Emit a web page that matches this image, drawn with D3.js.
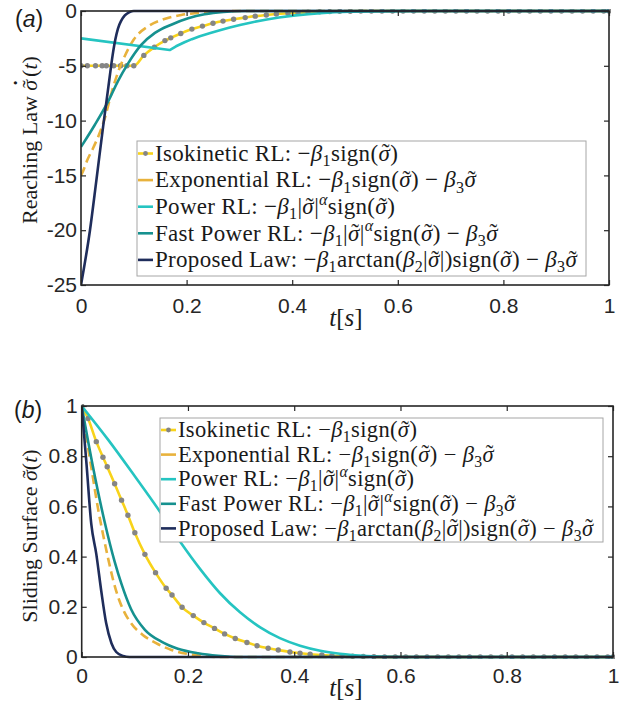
<!DOCTYPE html>
<html>
<head>
<meta charset="utf-8">
<script src="https://cdn.jsdelivr.net/npm/d3@7"></script>
<style>
  body { margin: 0; background: #fff; }
</style>
</head>
<body>
<script>
// ── data ─────────────────────────────────────────────────
// isokinetic run: markers sit on these samples (same grid in both panels)
const tIso = [0, 0.012, 0.0275, 0.04, 0.048, 0.062, 0.075, 0.087, 0.1, 0.119, 0.139, 0.159, 0.17, 0.189,
     0.21, 0.23, 0.25, 0.269, 0.289, 0.311, 0.33, 0.351, 0.37, 0.392, 0.411, 0.43, 0.452, 0.471, 0.49, 0.51,
     0.53, 0.55, 0.57, 0.59, 0.61, 0.63, 0.65, 0.67, 0.69, 0.71, 0.73, 0.75, 0.77, 0.79, 0.81, 0.83, 0.85,
     0.87, 0.89, 0.91, 0.93, 0.95, 0.97, 0.99, 1];
const isoReach = [-5, -5, -5, -5, -5, -5, -5, -5, -5, -4.05, -3.3, -2.7, -2.45, -2.05,
     -1.65, -1.38, -1.12, -0.92, -0.75, -0.6, -0.47, -0.36, -0.28, -0.21, -0.15, -0.1, -0.07, -0.05, -0.03, -0.02,
     -0.01, 0, 0, 0, 0, 0, 0, 0, 0, 0, 0, 0, 0, 0, 0, 0, 0,
     0, 0, 0, 0, 0, 0, 0, 0];
const isoSigma = [1, 0.95, 0.858, 0.796, 0.758, 0.69, 0.625, 0.565, 0.495, 0.409, 0.336, 0.274, 0.247, 0.198,
     0.165, 0.137, 0.114, 0.092, 0.074, 0.058, 0.045, 0.035, 0.028, 0.02, 0.015, 0.011, 0.008, 0.005, 0.004, 0.003,
     0.002, 0.001, 0, 0, 0, 0, 0, 0, 0, 0, 0, 0, 0, 0, 0, 0, 0,
     0, 0, 0, 0, 0, 0, 0, 0];

// panel (a): reaching law
const expReach = [[0, -15], [0.004, -14.6], [0.012, -13.6], [0.023, -12.5], [0.034, -11.3], [0.045, -9.8],
     [0.057, -7.6], [0.07, -5.6], [0.083, -4.1], [0.1, -2.6], [0.127, -1.4], [0.158, -0.73], [0.19, -0.36],
     [0.22, -0.18], [0.26, -0.06], [0.3, 0], [1, 0]];
const powReach = [[0, -2.5], [0.168, -3.56], [0.18, -3.22], [0.196, -2.85], [0.21, -2.57], [0.225, -2.3],
     [0.245, -2.0], [0.263, -1.75], [0.28, -1.53], [0.301, -1.28], [0.325, -1.02], [0.352, -0.77], [0.375, -0.59],
     [0.402, -0.42], [0.43, -0.29], [0.453, -0.2], [0.48, -0.12], [0.51, -0.07], [0.55, -0.03], [0.6, -0.01],
     [0.65, 0], [1, 0]];
const fastReach = [[0, -12.4], [0.004, -12.1], [0.026, -10.4], [0.051, -8.3], [0.07, -6.4], [0.089, -4.8],
     [0.114, -3.1], [0.14, -2.0], [0.171, -1.25], [0.203, -0.67], [0.234, -0.3], [0.27, -0.08], [0.31, 0], [1, 0]];
const propReach = [[0, -25], [0.017, -20], [0.029, -15.5], [0.042, -10.5], [0.053, -6.5], [0.06, -4.0],
     [0.065, -2.6], [0.07, -1.6], [0.076, -0.9], [0.083, -0.4], [0.092, -0.1], [0.1, 0], [1, 0]];

// panel (b): sliding surface
const expSigma = [[0, 1], [0.01, 0.86], [0.02, 0.73], [0.03, 0.6], [0.04, 0.49], [0.05, 0.39], [0.06, 0.3],
     [0.07, 0.23], [0.08, 0.18], [0.093, 0.134], [0.115, 0.088], [0.14, 0.055], [0.169, 0.028], [0.2, 0.012],
     [0.23, 0.004], [0.26, 0], [1, 0]];
const powSigma = [[0, 1], [0.05, 0.865], [0.1, 0.72], [0.147, 0.58], [0.185, 0.46], [0.223, 0.35],
     [0.26, 0.255], [0.298, 0.178], [0.336, 0.118], [0.373, 0.075], [0.411, 0.045], [0.449, 0.025], [0.486, 0.013],
     [0.537, 0.004], [0.6, 0], [1, 0]];
const fastSigma = [[0, 1], [0.021, 0.76], [0.043, 0.54], [0.062, 0.38], [0.075, 0.29], [0.093, 0.19],
     [0.119, 0.108], [0.15, 0.061], [0.181, 0.033], [0.219, 0.015], [0.257, 0.005], [0.3, 0], [1, 0]];
const propSigma = [[0, 1], [0.009, 0.77], [0.018, 0.53], [0.0275, 0.41], [0.037, 0.26], [0.046, 0.135],
     [0.056, 0.055], [0.065, 0.02], [0.078, 0.004], [0.09, 0], [1, 0]];

// ticks
const xTicks = [0, 0.2, 0.4, 0.6, 0.8, 1];
const xTickLabels = ['0', '0.2', '0.4', '0.6', '0.8', '1'];
const reachTicks = [-25, -20, -15, -10, -5, 0];
const reachTickLabels = ['-25', '-20', '-15', '-10', '-5', '0'];
const sigmaTicks = [0, 0.2, 0.4, 0.6, 0.8, 1];
const sigmaTickLabels = ['0', '0.2', '0.4', '0.6', '0.8', '1'];

// legend entries (LaTeX-ish pieces: '' roman, i italic, sub, isup, st = sigma-tilde)
const legendLabels = [
     [['Isokinetic RL: −', ''], ['β', 'i'], ['1', 'sub'], ['sign(', ''], ['', 'st'], [')', '']],
     [['Exponential RL: −', ''], ['β', 'i'], ['1', 'sub'], ['sign(', ''], ['', 'st'], [') − ', ''], ['β', 'i'], ['3', 'sub'], ['', 'st']],
     [['Power RL: −', ''], ['β', 'i'], ['1', 'sub'], ['|', ''], ['', 'st'], ['|', ''], ['α', 'isup'], ['sign(', ''], ['', 'st'], [')', '']],
     [['Fast Power RL: −', ''], ['β', 'i'], ['1', 'sub'], ['|', ''], ['', 'st'], ['|', ''], ['α', 'isup'], ['sign(', ''], ['', 'st'], [') − ', ''], ['β', 'i'], ['3', 'sub'], ['', 'st']],
     [['Proposed Law: −', ''], ['β', 'i'], ['1', 'sub'], ['arctan(', ''], ['β', 'i'], ['2', 'sub'], ['|', ''], ['', 'st'], ['|)sign(', ''], ['', 'st'], [') − ', ''], ['β', 'i'], ['3', 'sub'], ['', 'st']]
];

const COL = { iso: '#F8D31A', dot: '#858585', exp: '#E8B23C', pow: '#25C4C1', fast: '#16918F', prop: '#1F2D5B' };
const SERIF = '"Liberation Serif"';
const SANS = '"Liberation Sans"';

const svg = d3.select('body').append('svg').attr('width', 627).attr('height', 711)
     .style('background', '#fff');

// writes LaTeX-like pieces as tspans; sigma-tilde (and its dot) are stacked by hand
function mathText(sel, parts, size, family) {
     let shift = 0, pendDx = 0;
     const add = (s, k, extraDy) => {
          const ts = sel.append('tspan').text(s).attr('font-family', family);
          let target = 0;
          if (k === 'sub') target = size * 0.22;
          if (k === 'isup') target = -size * 0.4;
          target += extraDy || 0;
          if (target !== shift) { ts.attr('dy', target - shift); shift = target; }
          if (pendDx) { ts.attr('dx', pendDx); pendDx = 0; }
          if (k === 'sub' || k === 'isup') ts.attr('font-size', size * 0.7);
          if (k === 'i' || k === 'isup') ts.attr('font-style', 'italic');
          return ts;
     };
     parts.forEach(([s, k]) => {
          if (k === 'st' || k === 'std') {
               add('σ', 'i');
               add('\u02DC', '', -size * 0.02).attr('dx', -size * 0.36);
               if (k === 'std') {
                    add('\u02D9', '', -size * 0.36).attr('dx', -size * 0.27).attr('font-weight', 'bold');
                    pendDx = size * 0.1;
               } else pendDx = size * 0.02;
          } else add(s, k);
     });
}

function drawPanel(cfg) {
     const x = d3.scaleLinear().domain([0, 1]).range([cfg.x0, cfg.x1]);
     const y = d3.scaleLinear().domain(cfg.yDomain).range([cfg.y1, cfg.y0]);
     const g = svg.append('g');

     const clip = 'clip-' + cfg.id;
     g.append('clipPath').attr('id', clip).append('rect')
          .attr('x', cfg.x0).attr('y', cfg.y0 - 2).attr('width', cfg.x1 - cfg.x0 + 2).attr('height', cfg.y1 - cfg.y0 + 4);

     const plot = g.append('g').attr('clip-path', `url(#${clip})`);
     const isoPts = tIso.map((t, i) => [t, cfg.iso[i]]);

     const series = [
          { pts: isoPts, color: COL.iso, dash: null },
          { pts: cfg.exp, color: COL.exp, dash: '9,5' },
          { pts: cfg.pow, color: COL.pow, dash: null, curve: cfg.powCurve },
          { pts: cfg.fast, color: COL.fast, dash: null },
          { pts: cfg.prop, color: COL.prop, dash: null }
     ];

     series.forEach((s, i) => {
          const line = d3.line().x(d => x(d[0])).y(d => y(d[1])).curve(s.curve || d3.curveMonotoneX);
          plot.append('path').datum(s.pts)
               .attr('d', line)
               .attr('fill', 'none')
               .attr('stroke', s.color)
               .attr('stroke-width', 2.6)
               .attr('stroke-dasharray', s.dash)
               .attr('stroke-linejoin', 'round');
          if (i === 0) {
               plot.selectAll('.iso-dot').data(isoPts).join('circle')
                    .attr('class', 'iso-dot')
                    .attr('cx', d => x(d[0])).attr('cy', d => y(d[1]))
                    .attr('r', 2.7).attr('fill', COL.dot);
          }
     });

     // axes: inward ticks on all four sides, MATLAB box
     const tk = 5;
     const xAx = g.append('g').attr('transform', `translate(0,${cfg.y1})`)
          .call(d3.axisBottom(x).tickValues(xTicks).tickFormat((d, i) => xTickLabels[i])
               .tickSizeInner(-tk).tickSizeOuter(0).tickPadding(cfg.xPad));
     g.append('g').attr('transform', `translate(0,${cfg.y0})`)
          .call(d3.axisTop(x).tickValues(xTicks).tickFormat('').tickSizeInner(-tk).tickSizeOuter(0));
     const yAx = g.append('g').attr('transform', `translate(${cfg.x0},0)`)
          .call(d3.axisLeft(y).tickValues(cfg.yTicks).tickFormat((d, i) => cfg.yTickLabels[i])
               .tickSizeInner(-tk).tickSizeOuter(0).tickPadding(4));
     g.append('g').attr('transform', `translate(${cfg.x1},0)`)
          .call(d3.axisRight(y).tickValues(cfg.yTicks).tickFormat('').tickSizeInner(-tk).tickSizeOuter(0));
     g.selectAll('.domain').remove();
     g.selectAll('.tick line').attr('stroke', '#262626').attr('stroke-width', 1.2);
     [xAx, yAx].forEach(a => {
          a.attr('font-family', SANS).attr('font-size', 21);
          a.selectAll('text').attr('font-family', SANS).attr('fill', '#262626');
     });

     g.append('rect')
          .attr('x', cfg.x0).attr('y', cfg.y0)
          .attr('width', cfg.x1 - cfg.x0).attr('height', cfg.y1 - cfg.y0)
          .attr('fill', 'none').attr('stroke', '#262626').attr('stroke-width', 1.6);

     // legend
     const L = cfg.legend;
     const lg = g.append('g');
     lg.append('rect')
          .attr('x', L.x).attr('y', L.y).attr('width', L.w).attr('height', L.h)
          .attr('fill', '#fff').attr('stroke', '#a6a6a6').attr('stroke-width', 1);
     series.forEach((s, i) => {
          const cy = L.y + L.first + i * L.step;
          lg.append('line')
               .attr('x1', L.x + 1).attr('x2', L.x + 16).attr('y1', cy).attr('y2', cy)
               .attr('stroke', s.color).attr('stroke-width', 2.6);
          if (i === 0) lg.append('circle').attr('cx', L.x + 8.5).attr('cy', cy).attr('r', 2.4).attr('fill', COL.dot);
          const t = lg.append('text')
               .attr('x', L.x + 18).attr('y', cy + L.size * 0.32)
               .attr('font-family', SERIF).attr('font-size', L.size)
               .attr('letter-spacing', L.ls).attr('fill', '#1a1a1a');
          mathText(t, legendLabels[i], L.size, SERIF);
     });

     // axis titles
     const xl = g.append('text')
          .attr('x', cfg.xLabel[0]).attr('y', cfg.xLabel[1]).attr('text-anchor', 'middle')
          .attr('font-family', SERIF).attr('font-size', 25).attr('fill', '#1a1a1a');
     mathText(xl, [['t', 'i'], ['[', ''], ['s', 'i'], [']', '']], 25, SERIF);

     const yl = g.append('text')
          .attr('transform', `translate(${cfg.yLabel[0]},${cfg.yLabel[1]}) rotate(-90)`)
          .attr('text-anchor', 'middle')
          .attr('font-family', SERIF).attr('font-size', 22).attr('fill', '#1a1a1a');
     mathText(yl, cfg.yTitle, 22, SERIF);

     const pl = g.append('text').attr('x', cfg.tag[0]).attr('y', cfg.tag[1])
          .attr('font-family', SANS).attr('font-size', 23).attr('fill', '#1a1a1a');
     mathText(pl, [['(', ''], [cfg.id, 'i'], [')', '']], 23, SANS);
}

drawPanel({
     id: 'a', x0: 81, x1: 609, y0: 11, y1: 285,
     yDomain: [-25, 0], yTicks: reachTicks, yTickLabels: reachTickLabels, xPad: 13,
     iso: isoReach, exp: expReach, pow: powReach, fast: fastReach, prop: propReach,
     powCurve: d3.curveLinear,
     legend: { x: 137, y: 141, w: 449, h: 135, first: 12.5, step: 26.6, size: 23, ls: 0.3 },
     xLabel: [346, 326], yLabel: [37, 140],
     yTitle: [['Reaching Law ', ''], ['', 'std'], ['(', ''], ['t', 'i'], [')', '']],
     tag: [15, 27]
});

drawPanel({
     id: 'b', x0: 81.7, x1: 613, y0: 406, y1: 657,
     yDomain: [0, 1], yTicks: sigmaTicks, yTickLabels: sigmaTickLabels, xPad: 11,
     iso: isoSigma, exp: expSigma, pow: powSigma, fast: fastSigma, prop: propSigma,
     powCurve: d3.curveMonotoneX,
     legend: { x: 160, y: 418, w: 443, h: 124, first: 12, step: 24.6, size: 22.5, ls: 0.35 },
     xLabel: [346, 696], yLabel: [37, 536],
     yTitle: [['Sliding Surface ', ''], ['', 'st'], ['(', ''], ['t', 'i'], [')', '']],
     tag: [14, 418]
});
</script>
</body>
</html>
